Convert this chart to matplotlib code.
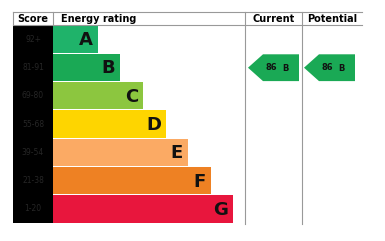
import matplotlib
matplotlib.use('Agg')
import matplotlib.pyplot as plt
from matplotlib.patches import Polygon

# Data
bands = ['A', 'B', 'C', 'D', 'E', 'F', 'G']
scores = ['92+', '81-91', '69-80', '55-68', '39-54', '21-38', '1-20']
bar_len = [45, 67, 90, 113, 135, 158, 180]
colors = ['#1fb36a', '#1aa955', '#8cc63f', '#fed500', '#fbaa64', '#ee8123', '#e8163d']
current = 86
current_band = 'B'
potential = 86
potential_band = 'B'

# Layout (pixels)
W, H = 385, 241
top = 12
head_h = 13
row_h = 28.3
left = 13
score_w = 40
x_bar = left + score_w
x_cur = 245
x_pot = 302
x_right = 362

fig = plt.figure(figsize=(W / 100, H / 100), dpi=100)
ax = fig.add_axes([0, 0, 1, 1])
ax.set_xlim(0, W)
ax.set_ylim(H, 0)
ax.axis('off')

y0 = top + head_h
n = len(bands)
y_bot = y0 + n * row_h

# grid lines
ax.plot([left, x_right], [top, top], color='#999999', lw=0.8)
ax.plot([left, x_right], [y0, y0], color='#999999', lw=0.8)
ax.plot([left, left], [top, y0], color='#999999', lw=0.8)
ax.plot([x_bar, x_bar], [top, y0], color='#999999', lw=0.8)
ax.plot([x_cur, x_cur], [top, y_bot + 1], color='#999999', lw=0.8)
ax.plot([x_pot, x_pot], [top, y_bot + 1], color='#999999', lw=0.8)

# headers
hy = top + head_h / 2 + 0.5
ax.text(left + score_w / 2, hy, 'Score', ha='center', va='center', fontsize=7, fontweight='bold')
ax.text(x_bar + 8, hy, 'Energy rating', ha='left', va='center', fontsize=7, fontweight='bold')
ax.text((x_cur + x_pot) / 2, hy, 'Current', ha='center', va='center', fontsize=7, fontweight='bold')
ax.text((x_pot + x_right) / 2, hy, 'Potential', ha='center', va='center', fontsize=7, fontweight='bold')

# score column
ax.bar(left, y_bot - y0, width=score_w, bottom=y0, align='edge', color='black')

for i, b in enumerate(bands):
    yc = y0 + (i + 0.5) * row_h
    ax.barh(yc, bar_len[i], left=x_bar, height=row_h - 1, color=colors[i])
    ax.text(x_bar + bar_len[i] - 5, yc + 1, b, ha='right', va='center',
            fontsize=13, fontweight='bold', color='#111111')
    ax.text(left + score_w / 2, yc, scores[i], ha='center', va='center',
            fontsize=5.5, color='#262626')


def arrow(x0, x1, value, band):
    i = bands.index(band)
    ya = y0 + i * row_h + 1
    yb = ya + row_h - 1.5
    ym = (ya + yb) / 2
    tip = 15
    pts = [(x0, ym), (x0 + tip, ya), (x1, ya), (x1, yb), (x0 + tip, yb)]
    ax.add_patch(Polygon(pts, closed=True, color=colors[i], lw=0))
    ax.text(x0 + tip + 3, ym - 0.5, str(value), ha='left', va='center',
            fontsize=6, fontweight='bold', color='#111111')
    ax.text(x1 - 14, ym + 0.5, band, ha='center', va='center',
            fontsize=6, fontweight='bold', color='#111111')


arrow(x_cur + 3, x_pot - 3, current, current_band)
arrow(x_pot + 2, x_right - 7, potential, potential_band)

fig.savefig('out.png', dpi=100)
